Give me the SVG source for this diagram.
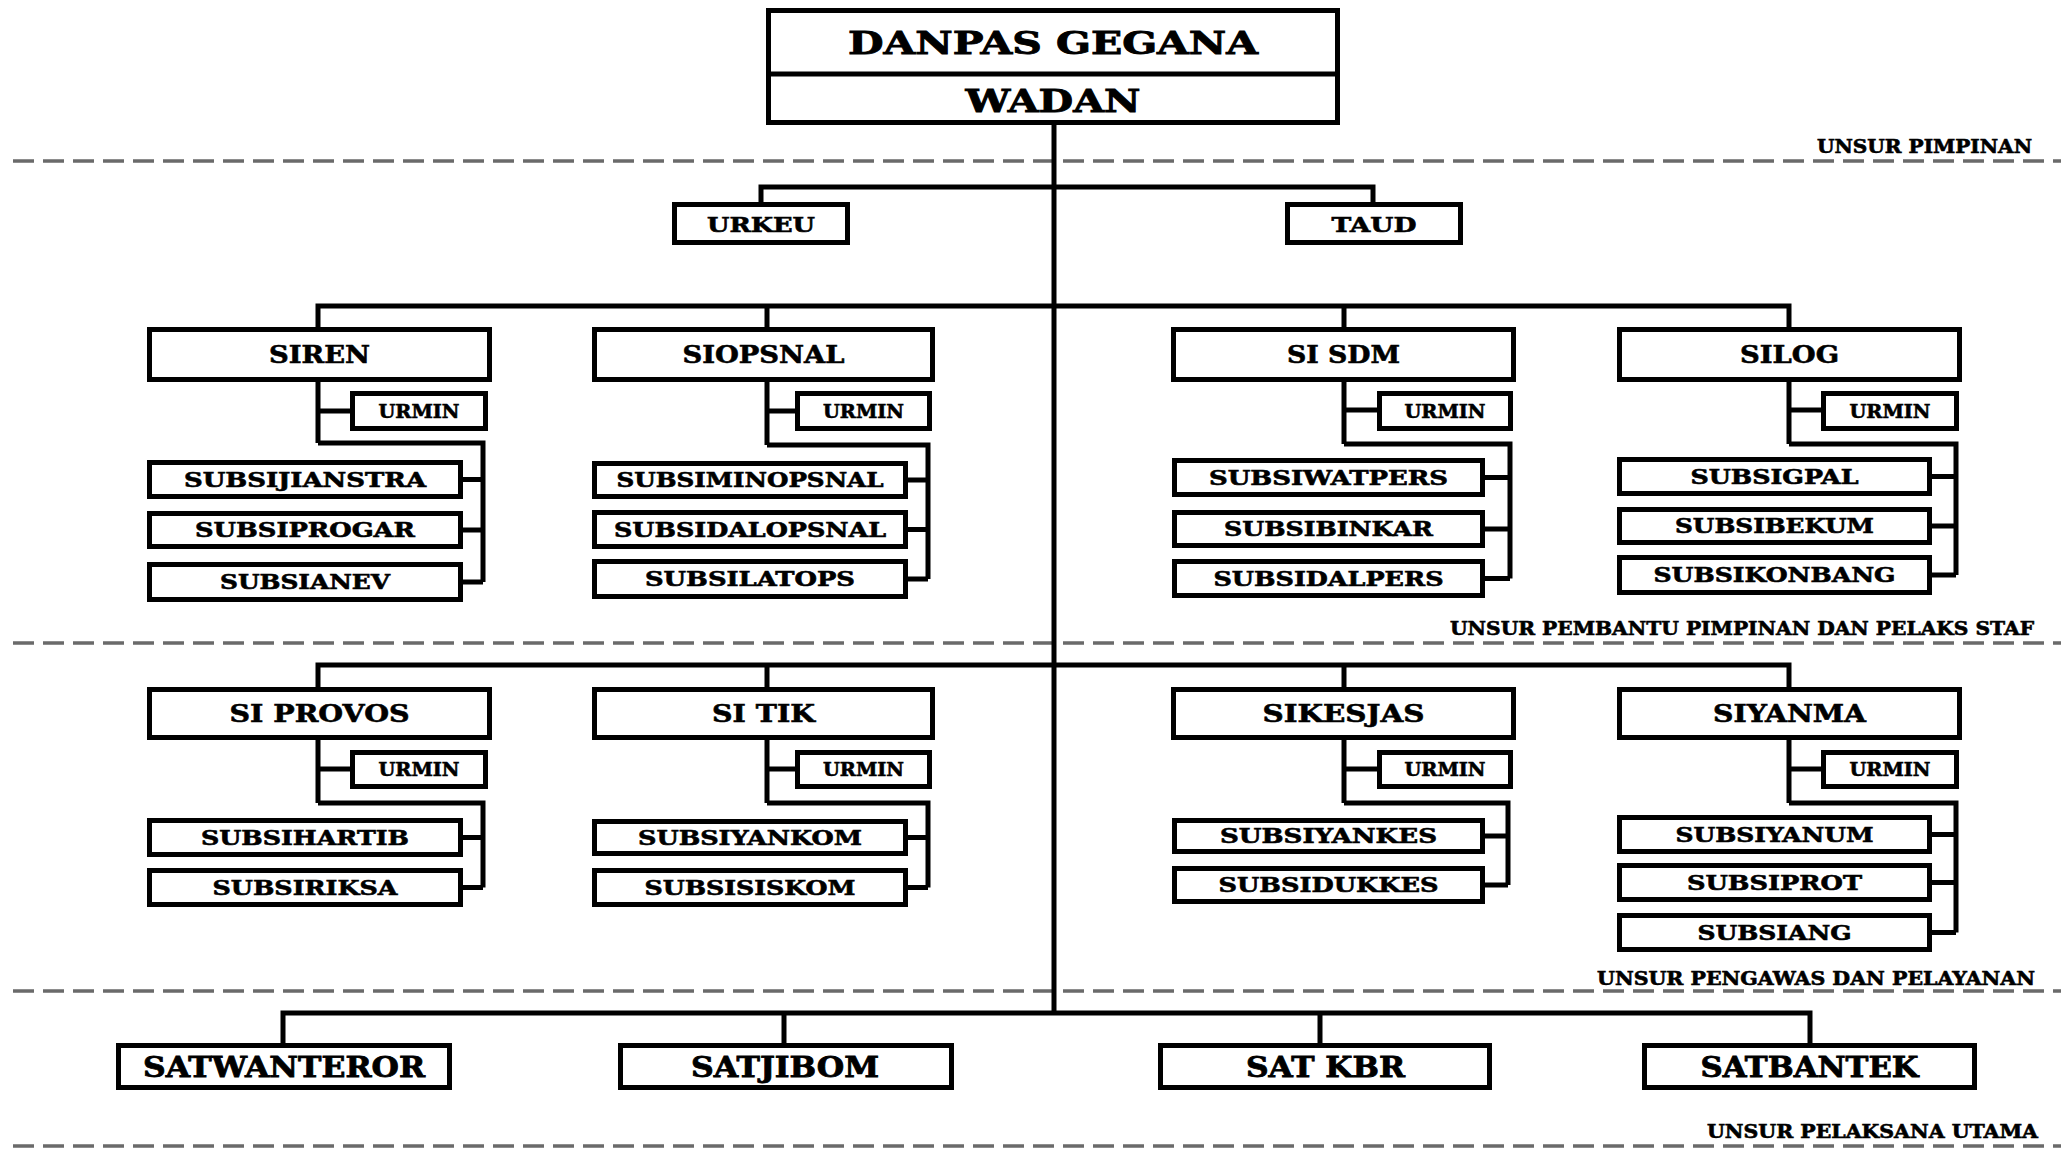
<svg xmlns="http://www.w3.org/2000/svg" width="2061" height="1149" viewBox="0 0 2061 1149">
<style>
.bx{fill:#fff;stroke:#000;stroke-width:5}
.ln{fill:none;stroke:#000;stroke-width:5}
.dash{fill:none;stroke:#6a6a6a;stroke-width:3.5;stroke-dasharray:21 9}
text{font-family:"DejaVu Serif","Liberation Serif",serif;font-weight:bold;fill:#000;stroke:#000;stroke-width:0.6;text-anchor:middle}
.t32{font-size:32px;stroke-width:0.9}.t27{font-size:27px;stroke-width:0.8}.t24{font-size:24px}.t21{font-size:21px}.t20{font-size:20px}.t18{font-size:18.5px}
.lb{font-size:18px;text-anchor:start}
</style>
<rect width="2061" height="1149" fill="#fff"/>
<g id="dividers">
<path class="dash" d="M13 161H2061M13 643H2061M13 991H2061M13 1146H2061"/>
<text class="lb" x="1817" y="153" textLength="215" lengthAdjust="spacingAndGlyphs">UNSUR PIMPINAN</text>
<text class="lb" x="1450" y="635" textLength="584" lengthAdjust="spacingAndGlyphs">UNSUR PEMBANTU PIMPINAN DAN PELAKS STAF</text>
<text class="lb" x="1597" y="985" textLength="438" lengthAdjust="spacingAndGlyphs">UNSUR PENGAWAS DAN PELAYANAN</text>
<text class="lb" x="1707" y="1138" textLength="331" lengthAdjust="spacingAndGlyphs">UNSUR PELAKSANA UTAMA</text>
</g>
<g id="connectors">
<path class="ln" d="M1054 125V1013"/>
<path class="ln" d="M761 204V187H1373V204"/>
<path class="ln" d="M318 329V306H1789V329M767 306V329M1344 306V329"/>
<path class="ln" d="M318 688V665H1789V688M767 665V688M1344 665V688"/>
<path class="ln" d="M283 1043V1013H1810V1043M784 1013V1043M1320 1013V1043"/>
<path class="ln" d="M318 382V443M318 411H350M318 443H483V582M463 479.5H483M463 530H483M463 582H483"/>
<path class="ln" d="M767 382V445M767 411H795M767 445H928V579M908 480H928M908 529.5H928M908 579H928"/>
<path class="ln" d="M1344 382V444M1344 410H1377M1344 444H1510V578.5M1485 477.5H1510M1485 529H1510M1485 578.5H1510"/>
<path class="ln" d="M1789 382V444M1789 410H1821M1789 444H1956V575M1932 476.5H1956M1932 526H1956M1932 575H1956"/>
<path class="ln" d="M318 740V803M318 769H350M318 803H483V887.5M463 837.5H483M463 887.5H483"/>
<path class="ln" d="M767 740V803M767 769H795M767 803H928V887.5M908 837.5H928M908 887.5H928"/>
<path class="ln" d="M1344 740V803M1344 769H1377M1344 803H1508V885M1485 836H1508M1485 885H1508"/>
<path class="ln" d="M1789 740V803M1789 769H1821M1789 803H1956V932.5M1932 834.5H1956M1932 882.5H1956M1932 932.5H1956"/>
</g>
<g id="danpas">
<rect class="bx" x="768.5" y="10.5" width="569" height="112"/>
<path class="ln" d="M768.5 74H1337.5"/>
<text class="t32" x="1053" y="54" textLength="410" lengthAdjust="spacingAndGlyphs">DANPAS GEGANA</text>
<text class="t32" x="1053" y="111.5" textLength="175" lengthAdjust="spacingAndGlyphs">WADAN</text>
</g>
<g id="urkeu"><rect class="bx" x="674.5" y="204.5" width="173" height="38"/><text class="t21" x="761" y="231.5" textLength="108" lengthAdjust="spacingAndGlyphs">URKEU</text></g>
<g id="taud"><rect class="bx" x="1287.5" y="204.5" width="173" height="38"/><text class="t21" x="1374" y="231.5" textLength="85" lengthAdjust="spacingAndGlyphs">TAUD</text></g>

<g id="siren"><rect class="bx" x="149.5" y="329.5" width="340" height="50"/><text class="t24" x="319.5" y="363" textLength="101" lengthAdjust="spacingAndGlyphs">SIREN</text></g>
<g id="siren-urmin"><rect class="bx" x="352.5" y="393.5" width="133" height="35"/><text class="t18" x="419" y="418" textLength="81" lengthAdjust="spacingAndGlyphs">URMIN</text></g>
<g id="subsijianstra"><rect class="bx" x="149.5" y="462.5" width="311" height="34"/><text class="t20" x="305" y="487" textLength="242" lengthAdjust="spacingAndGlyphs">SUBSIJIANSTRA</text></g>
<g id="subsiprogar"><rect class="bx" x="149.5" y="513.5" width="311" height="33"/><text class="t20" x="305" y="537.3" textLength="220" lengthAdjust="spacingAndGlyphs">SUBSIPROGAR</text></g>
<g id="subsianev"><rect class="bx" x="149.5" y="564.5" width="311" height="35"/><text class="t20" x="305" y="589.3" textLength="170" lengthAdjust="spacingAndGlyphs">SUBSIANEV</text></g>

<g id="siopsnal"><rect class="bx" x="594.5" y="329.5" width="338" height="50"/><text class="t24" x="763.5" y="363" textLength="162" lengthAdjust="spacingAndGlyphs">SIOPSNAL</text></g>
<g id="siopsnal-urmin"><rect class="bx" x="797.5" y="393.5" width="132" height="35"/><text class="t18" x="863.5" y="418" textLength="81" lengthAdjust="spacingAndGlyphs">URMIN</text></g>
<g id="subsiminopsnal"><rect class="bx" x="594.5" y="463.5" width="311" height="33"/><text class="t20" x="750" y="487.3" textLength="267" lengthAdjust="spacingAndGlyphs">SUBSIMINOPSNAL</text></g>
<g id="subsidalopsnal"><rect class="bx" x="594.5" y="512.5" width="311" height="34"/><text class="t20" x="750" y="536.8" textLength="272" lengthAdjust="spacingAndGlyphs">SUBSIDALOPSNAL</text></g>
<g id="subsilatops"><rect class="bx" x="594.5" y="561.5" width="311" height="35"/><text class="t20" x="750" y="586.3" textLength="210" lengthAdjust="spacingAndGlyphs">SUBSILATOPS</text></g>

<g id="sisdm"><rect class="bx" x="1173.5" y="329.5" width="340" height="50"/><text class="t24" x="1343.5" y="363" textLength="113" lengthAdjust="spacingAndGlyphs">SI SDM</text></g>
<g id="sisdm-urmin"><rect class="bx" x="1379.5" y="393.5" width="131" height="35"/><text class="t18" x="1445" y="418" textLength="81" lengthAdjust="spacingAndGlyphs">URMIN</text></g>
<g id="subsiwatpers"><rect class="bx" x="1174.5" y="460.5" width="308" height="34"/><text class="t20" x="1328.5" y="484.8" textLength="239" lengthAdjust="spacingAndGlyphs">SUBSIWATPERS</text></g>
<g id="subsibinkar"><rect class="bx" x="1174.5" y="512.5" width="308" height="33"/><text class="t20" x="1328.5" y="536.3" textLength="209" lengthAdjust="spacingAndGlyphs">SUBSIBINKAR</text></g>
<g id="subsidalpers"><rect class="bx" x="1174.5" y="561.5" width="308" height="34"/><text class="t20" x="1328.5" y="585.8" textLength="230" lengthAdjust="spacingAndGlyphs">SUBSIDALPERS</text></g>

<g id="silog"><rect class="bx" x="1619.5" y="329.5" width="340" height="50"/><text class="t24" x="1789.5" y="363" textLength="99" lengthAdjust="spacingAndGlyphs">SILOG</text></g>
<g id="silog-urmin"><rect class="bx" x="1823.5" y="393.5" width="133" height="35"/><text class="t18" x="1890" y="418" textLength="81" lengthAdjust="spacingAndGlyphs">URMIN</text></g>
<g id="subsigpal"><rect class="bx" x="1619.5" y="459.5" width="310" height="34"/><text class="t20" x="1774.5" y="483.8" textLength="168" lengthAdjust="spacingAndGlyphs">SUBSIGPAL</text></g>
<g id="subsibekum"><rect class="bx" x="1619.5" y="509.5" width="310" height="33"/><text class="t20" x="1774.5" y="533.3" textLength="199" lengthAdjust="spacingAndGlyphs">SUBSIBEKUM</text></g>
<g id="subsikonbang"><rect class="bx" x="1619.5" y="557.5" width="310" height="35"/><text class="t20" x="1774.5" y="582.3" textLength="242" lengthAdjust="spacingAndGlyphs">SUBSIKONBANG</text></g>

<g id="siprovos"><rect class="bx" x="149.5" y="689.5" width="340" height="48"/><text class="t24" x="319.5" y="722" textLength="180" lengthAdjust="spacingAndGlyphs">SI PROVOS</text></g>
<g id="siprovos-urmin"><rect class="bx" x="352.5" y="752.5" width="133" height="34"/><text class="t18" x="419" y="776" textLength="81" lengthAdjust="spacingAndGlyphs">URMIN</text></g>
<g id="subsihartib"><rect class="bx" x="149.5" y="820.5" width="311" height="34"/><text class="t20" x="305" y="844.8" textLength="208" lengthAdjust="spacingAndGlyphs">SUBSIHARTIB</text></g>
<g id="subsiriksa"><rect class="bx" x="149.5" y="870.5" width="311" height="34"/><text class="t20" x="305" y="894.8" textLength="185" lengthAdjust="spacingAndGlyphs">SUBSIRIKSA</text></g>

<g id="sitik"><rect class="bx" x="594.5" y="689.5" width="338" height="48"/><text class="t24" x="763.5" y="722" textLength="103" lengthAdjust="spacingAndGlyphs">SI TIK</text></g>
<g id="sitik-urmin"><rect class="bx" x="797.5" y="752.5" width="132" height="34"/><text class="t18" x="863.5" y="776" textLength="81" lengthAdjust="spacingAndGlyphs">URMIN</text></g>
<g id="subsiyankom"><rect class="bx" x="594.5" y="821.5" width="311" height="32"/><text class="t20" x="750" y="844.8" textLength="224" lengthAdjust="spacingAndGlyphs">SUBSIYANKOM</text></g>
<g id="subsisiskom"><rect class="bx" x="594.5" y="870.5" width="311" height="34"/><text class="t20" x="750" y="894.8" textLength="211" lengthAdjust="spacingAndGlyphs">SUBSISISKOM</text></g>

<g id="sikesjas"><rect class="bx" x="1173.5" y="689.5" width="340" height="48"/><text class="t24" x="1343.5" y="722" textLength="162" lengthAdjust="spacingAndGlyphs">SIKESJAS</text></g>
<g id="sikesjas-urmin"><rect class="bx" x="1379.5" y="752.5" width="131" height="34"/><text class="t18" x="1445" y="776" textLength="81" lengthAdjust="spacingAndGlyphs">URMIN</text></g>
<g id="subsiyankes"><rect class="bx" x="1174.5" y="820.5" width="308" height="31"/><text class="t20" x="1328.5" y="843.3" textLength="217" lengthAdjust="spacingAndGlyphs">SUBSIYANKES</text></g>
<g id="subsidukkes"><rect class="bx" x="1174.5" y="868.5" width="308" height="33"/><text class="t20" x="1328.5" y="892.3" textLength="220" lengthAdjust="spacingAndGlyphs">SUBSIDUKKES</text></g>

<g id="siyanma"><rect class="bx" x="1619.5" y="689.5" width="340" height="48"/><text class="t24" x="1789.5" y="722" textLength="153" lengthAdjust="spacingAndGlyphs">SIYANMA</text></g>
<g id="siyanma-urmin"><rect class="bx" x="1823.5" y="752.5" width="133" height="34"/><text class="t18" x="1890" y="776" textLength="81" lengthAdjust="spacingAndGlyphs">URMIN</text></g>
<g id="subsiyanum"><rect class="bx" x="1619.5" y="817.5" width="310" height="34"/><text class="t20" x="1774.5" y="841.8" textLength="198" lengthAdjust="spacingAndGlyphs">SUBSIYANUM</text></g>
<g id="subsiprot"><rect class="bx" x="1619.5" y="865.5" width="310" height="34"/><text class="t20" x="1774.5" y="889.8" textLength="175" lengthAdjust="spacingAndGlyphs">SUBSIPROT</text></g>
<g id="subsiang"><rect class="bx" x="1619.5" y="915.5" width="310" height="34"/><text class="t20" x="1774.5" y="939.8" textLength="154" lengthAdjust="spacingAndGlyphs">SUBSIANG</text></g>

<g id="satwanteror"><rect class="bx" x="118.5" y="1045.5" width="331" height="42"/><text class="t27" x="284" y="1076.5" textLength="282" lengthAdjust="spacingAndGlyphs">SATWANTEROR</text></g>
<g id="satjibom"><rect class="bx" x="620.5" y="1045.5" width="331" height="42"/><text class="t27" x="785" y="1076.5" textLength="188" lengthAdjust="spacingAndGlyphs">SATJIBOM</text></g>
<g id="satkbr"><rect class="bx" x="1160.5" y="1045.5" width="329" height="42"/><text class="t27" x="1325.5" y="1076.5" textLength="159" lengthAdjust="spacingAndGlyphs">SAT KBR</text></g>
<g id="satbantek"><rect class="bx" x="1644.5" y="1045.5" width="330" height="42"/><text class="t27" x="1809.5" y="1076.5" textLength="218" lengthAdjust="spacingAndGlyphs">SATBANTEK</text></g>
</svg>
